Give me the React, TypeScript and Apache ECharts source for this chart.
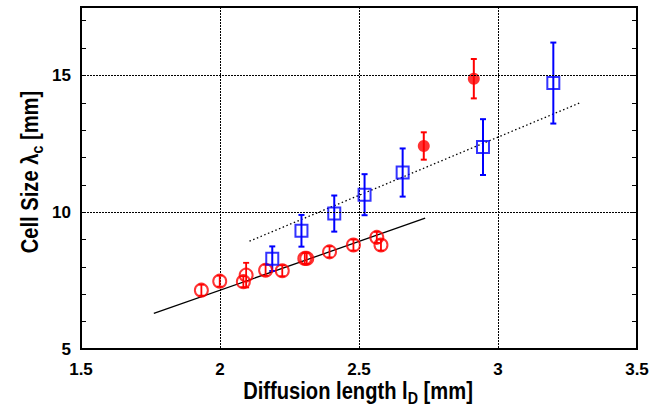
import React, { useEffect, useRef } from "react";
import * as echarts from "echarts";

// Red open circles: [x, y, err]
const openCircles: number[][] = [
  [1.933, 7.15, 0.2],
  [1.999, 7.48, 0.2],
  [2.084, 7.46, 0.2],
  [2.094, 7.70, 0.45],
  [2.164, 7.88, 0.2],
  [2.224, 7.86, 0.2],
  [2.305, 8.31, 0.2],
  [2.312, 8.31, 0.2],
  [2.394, 8.55, 0.2],
  [2.48, 8.80, 0.2],
  [2.564, 9.08, 0.2],
  [2.579, 8.80, 0.2],
];
// Blue open squares: [x, y, err]
const squares: number[][] = [
  [2.188, 8.3, 0.45],
  [2.293, 9.32, 0.58],
  [2.411, 9.95, 0.66],
  [2.52, 10.64, 0.75],
  [2.657, 11.45, 0.88],
  [2.946, 12.38, 1.02],
  [3.199, 14.72, 1.48],
];
// Red filled circles: [x, y, err]
const filledCircles: number[][] = [
  [2.733, 12.42, 0.5],
  [2.913, 14.88, 0.72],
];
// Fit lines
const solidFit: number[][] = [
  [1.762, 6.3],
  [2.738, 9.78],
];
const dottedFit: number[][] = [
  [2.106, 8.94],
  [3.3, 14.02],
];
const yGridValues = [10, 15];
const xTitle = "{m|Diffusion length l}{s|D}{m| [mm]}";
const yTitle = "{m|Cell Size λ}{s|c}{m| [mm]}";

const RED = "#ff0000";
const BLUE = "#0000ff";

function errorSeries(data: number[][], color: string, width: number) {
  return {
    type: "custom",
    data,
    z: 3,
    silent: true,
    renderItem: (params: any, api: any) => {
      const x = api.value(0);
      const y = api.value(1);
      const e = api.value(2);
      const top = api.coord([x, y + e]);
      const bot = api.coord([x, y - e]);
      const cw = 3;
      const st = { stroke: color, lineWidth: width };
      return {
        type: "group",
        children: [
          { type: "line", shape: { x1: top[0], y1: top[1], x2: bot[0], y2: bot[1] }, style: st },
          { type: "line", shape: { x1: top[0] - cw, y1: top[1], x2: top[0] + cw, y2: top[1] }, style: st },
          { type: "line", shape: { x1: bot[0] - cw, y1: bot[1], x2: bot[0] + cw, y2: bot[1] }, style: st },
        ],
      };
    },
  };
}

export default function App() {
  const ref = useRef<HTMLDivElement>(null);
  useEffect(() => {
    document.body.style.margin = "0";
    const chart = echarts.init(ref.current!, null, { renderer: "svg" });
    const tickFont = { fontFamily: "Liberation Sans", fontWeight: "bold", fontSize: 17, color: "#000" };
    const nameRich = {
      m: { fontFamily: "Liberation Sans", fontWeight: "bold", fontSize: 24, fill: "#000", color: "#000", lineHeight: 28 },
      s: { fontFamily: "Liberation Sans", fontWeight: "bold", fontSize: 17, fill: "#000", color: "#000", lineHeight: 28, padding: [14, 0, 0, 0] },
    };
    const gridLine = { color: "#000", type: [2, 1], width: 1 };
    chart.setOption({
      animation: false,
      grid: { left: 81, right: 33, top: 7, bottom: 61, show: true, borderColor: "#000", borderWidth: 2, backgroundColor: "#fff" },
      graphic: [
        {
          type: "text",
          x: 358,
          y: 391,
          scaleX: 0.84,
          z: 10,
          style: { text: xTitle, rich: nameRich, align: "center", verticalAlign: "middle" },
        },
        {
          type: "text",
          x: 30,
          y: 172,
          scaleX: 0.84,
          rotation: Math.PI / 2,
          z: 10,
          style: { text: yTitle, rich: nameRich, align: "center", verticalAlign: "middle" },
        },
      ],
      xAxis: {
        type: "value",
        min: 1.5,
        max: 3.5,
        interval: 0.5,
        axisLine: { show: false },
        axisTick: { show: false },
        axisLabel: { ...tickFont, margin: 12 },
        splitLine: { show: true, lineStyle: gridLine },
      },
      yAxis: [
        {
          type: "value",
          min: 5,
          max: 17.5,
          interval: 1,
          axisLine: { show: false },
          axisTick: { show: true, inside: true, length: 5, lineStyle: { color: "#000", width: 1 } },
          axisLabel: {
            ...tickFont,
            margin: 10,
            formatter: (v: number) => (v % 5 === 0 ? String(v) : ""),
          },
          splitLine: { show: false },
        },
        {
          type: "value",
          position: "right",
          min: 5,
          max: 17.5,
          interval: 1,
          axisLine: { show: false },
          axisTick: { show: true, inside: true, length: 5, lineStyle: { color: "#000", width: 1 } },
          axisLabel: { show: false },
          splitLine: { show: false },
        },
      ],
      series: [
        {
          type: "line",
          data: solidFit,
          showSymbol: false,
          symbol: "none",
          lineStyle: { color: "#000", width: 1.3 },
          z: 2,
          markLine: {
            silent: true,
            symbol: "none",
            label: { show: false },
            lineStyle: gridLine,
            data: yGridValues.map((v) => ({ yAxis: v })),
          },
        },
        {
          type: "line",
          data: dottedFit,
          showSymbol: false,
          symbol: "none",
          lineStyle: { color: "#000", width: 1.3, type: [1.5, 2.5] },
          z: 2,
        },
        errorSeries(openCircles, RED, 1.8),
        errorSeries(squares, BLUE, 2),
        errorSeries(filledCircles, RED, 2),
        {
          type: "scatter",
          data: openCircles.map((d) => [d[0], d[1]]),
          symbol: "circle",
          symbolSize: 13,
          itemStyle: { color: "transparent", borderColor: RED, borderWidth: 2 },
          z: 4,
        },
        {
          type: "scatter",
          data: squares.map((d) => [d[0], d[1]]),
          symbol: "rect",
          symbolSize: 12,
          itemStyle: { color: "transparent", borderColor: BLUE, borderWidth: 2 },
          z: 4,
        },
        {
          type: "scatter",
          data: filledCircles.map((d) => [d[0], d[1]]),
          symbol: "circle",
          symbolSize: 12,
          itemStyle: { color: RED },
          z: 4,
        },
      ],
    });
    return () => chart.dispose();
  }, []);
  return <div ref={ref} style={{ width: 670, height: 410 }} />;
}
